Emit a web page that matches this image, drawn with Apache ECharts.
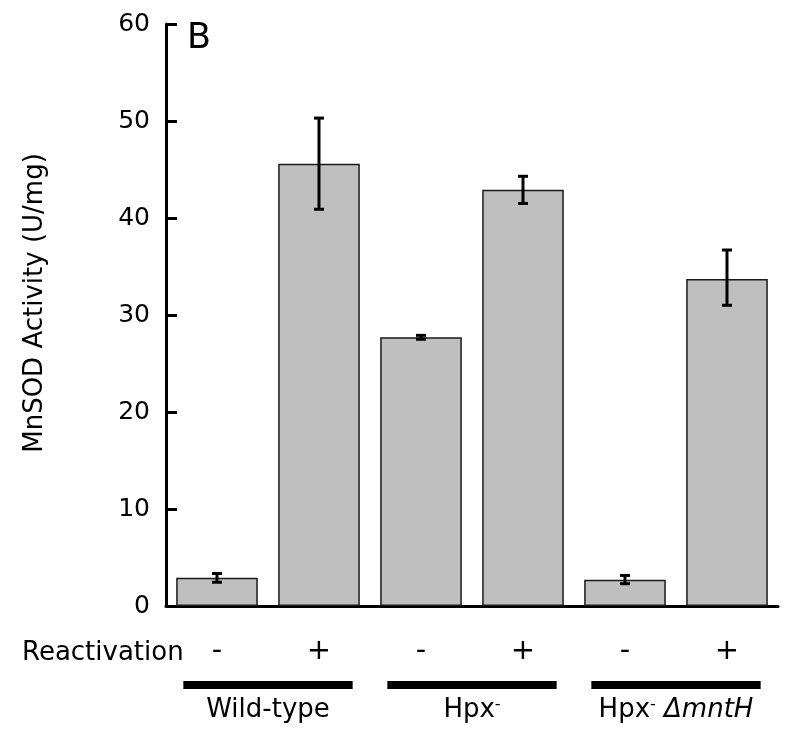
<!DOCTYPE html>
<html><head><meta charset="utf-8">
<script src="https://cdn.jsdelivr.net/npm/echarts@6/dist/echarts.min.js"></script>
<style>html,body{margin:0;padding:0;background:#fff}#c{width:800px;height:740px}</style>
</head><body><div id="c"></div>
<script>
const groups = ['Wild-type', 'Hpx-', 'Hpx- ΔmntH'];
const reactivation = ['-', '+'];
const activity = [2.9, 45.6, 27.7, 42.9, 2.7, 33.7];
const errLow = [2.45, 40.9, 27.5, 41.5, 2.3, 31.0];
const errHigh = [3.35, 50.3, 27.9, 44.3, 3.15, 36.7];
const yMin = 0, yMax = 60, yStep = 10;
const yTitle = 'MnSOD Activity (U/mg)';
const panelLabel = 'B';
const rowLabel = 'Reactivation';

const FF = 'DejaVu Sans';
const categories = [];
groups.forEach(g => reactivation.forEach(r => categories.push(g + '|' + r)));
const groupRich = {
  'Wild-type': 'Wild-type',
  'Hpx-': 'Hpx{sup|-}',
  'Hpx- ΔmntH': 'Hpx{sup|-} {it|ΔmntH}'
};

const chart = echarts.init(document.getElementById('c'), null, {renderer: 'canvas'});
chart.setOption({
  animation: false,
  backgroundColor: '#fff',
  title: {text: panelLabel, left: 187, top: 21, padding: 0,
    textStyle: {fontSize: 35, fontWeight: 'normal', fontFamily: FF, color: '#000'}},
  graphic: [{type: 'text', x: 22, y: 653,
    style: {text: rowLabel, fontSize: 26, fontFamily: FF, fill: '#000', verticalAlign: 'middle'}}],
  grid: {left: 166, right: 22, top: 24, bottom: 134, containLabel: false},
  xAxis: [{
    type: 'category', data: categories, position: 'bottom',
    axisLine: {lineStyle: {color: '#000', width: 3}},
    axisTick: {show: false},
    axisLabel: {margin: 31, fontSize: 29, fontFamily: FF, color: '#000', interval: 0,
      formatter: v => v.split('|')[1]}
  }, {
    type: 'category', data: groups, position: 'bottom',
    axisLine: {show: false}, axisTick: {show: false},
    axisLabel: {margin: 91, fontSize: 26, fontFamily: FF, color: '#000', interval: 0,
      formatter: v => groupRich[v],
      rich: {sup: {fontSize: 16, fontFamily: FF, verticalAlign: 'top', color: '#000'},
             it: {fontSize: 26, fontFamily: FF, fontStyle: 'italic', color: '#000'}}}
  }],
  yAxis: {
    type: 'value', min: yMin, max: yMax, interval: yStep,
    name: yTitle, nameLocation: 'middle', nameGap: 118,
    nameTextStyle: {fontSize: 26, fontFamily: FF, color: '#000', padding: [0, 0, 0, 24]},
    splitLine: {show: false},
    axisLine: {show: true, lineStyle: {color: '#000', width: 3}},
    axisTick: {show: true, inside: true, length: 11, lineStyle: {color: '#000', width: 3}},
    axisLabel: {margin: 16, fontSize: 25, fontFamily: FF, color: '#000'}
  },
  series: [{
    type: 'bar', data: activity, barCategoryGap: '20%',
    itemStyle: {color: '#bfbfbf', borderColor: '#1a1a1a', borderWidth: 1.5},
    z: 2
  }, {
    type: 'custom', xAxisIndex: 0, yAxisIndex: 0, z: 3,
    data: activity.map((v, i) => [i, errLow[i], errHigh[i]]),
    encode: {x: 0, y: [1, 2]},
    renderItem: (params, api) => {
      const lo = api.coord([api.value(0), api.value(1)]);
      const hi = api.coord([api.value(0), api.value(2)]);
      const x = lo[0], cap = 5;
      const st = {stroke: '#000', lineWidth: 3};
      return {type: 'group', children: [
        {type: 'line', shape: {x1: x, y1: lo[1], x2: x, y2: hi[1]}, style: st},
        {type: 'line', shape: {x1: x - cap, y1: lo[1], x2: x + cap, y2: lo[1]}, style: st},
        {type: 'line', shape: {x1: x - cap, y1: hi[1], x2: x + cap, y2: hi[1]}, style: st}
      ]};
    }
  }, {
    type: 'custom', xAxisIndex: 1, yAxisIndex: 0, z: 3, clip: false,
    data: groups.map((g, i) => [i, 0]),
    encode: {x: 0, y: 1},
    renderItem: (params, api) => {
      const c = api.coord([api.value(0), api.value(1)]);
      const w = api.size([1, 0])[0] * 0.83;
      return {type: 'rect', shape: {x: c[0] - w / 2, y: c[1] + 75, width: w, height: 8},
        style: {fill: '#000'}};
    }
  }]
});
</script></body></html>
